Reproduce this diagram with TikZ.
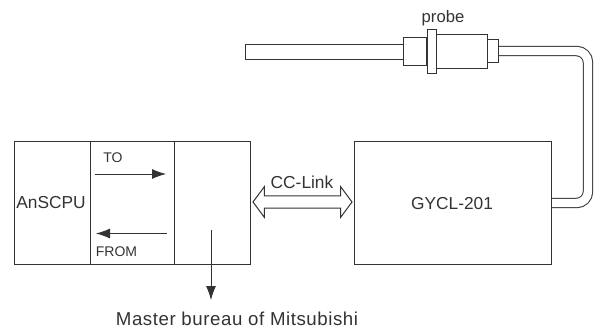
\documentclass[tikz,border=0pt]{standalone}
\usepackage{fontspec}
\setmainfont{Liberation Sans}
\newfontfamily\spacedfont[LetterSpace=3]{Liberation Sans}
\usetikzlibrary{arrows.meta, shapes.arrows}
\tikzset{
    part/.style={draw=inkgrey, line width=0.75pt, minimum width=#1, anchor=north west, inner sep=0pt},
    label/.style={text=inkgrey, font=\fontsize{13pt}{15pt}\selectfont, inner sep=0pt},
    smalllabel/.style={label, font=\fontsize{10.5pt}{12pt}\selectfont},
    flow/.style={draw=inkgrey, line width=0.6pt, -{Latex[length=10.5pt, width=7.5pt]}}
}
\definecolor{inkgrey}{HTML}{333333}
\begin{document}
\begin{tikzpicture}[x=0.75pt, y=-0.75pt]
    \useasboundingbox (0,0) rectangle (600,329);
    % PLC unit
    \node[part=57pt, minimum height=92.25pt] (cpu) at (14,141) {};
    \node[part=63pt, minimum height=92.25pt] (buffer) at (90,141) {};
    \node[part=57pt, minimum height=92.25pt] (master) at (174,141) {};
    \node[label] (cpuname) at (51,203) {AnSCPU};
    \node[smalllabel] (tolabel) at (113,158) {TO};
    \node[smalllabel] (fromlabel) at (116.5,252) {FROM};
    \coordinate (toA) at (95,174);
    \coordinate (toB) at (166,174);
    \coordinate (fromA) at (167,233.5);
    \coordinate (fromB) at (96,233.5);
    \draw[flow] (toA) -- (toB);
    \draw[flow] (fromA) -- (fromB);
    % master bureau
    \coordinate (busA) at (211,230);
    \node[label, font=\fontsize{14pt}{16pt}\spacedfont] (bureau) at (237,319) {Master bureau of Mitsubishi};
    \coordinate (busB) at (211,300);
    \draw[flow] (busA) -- (busB);
    % sensor unit and link
    \node[part=147.75pt, minimum height=92.25pt] (sensor) at (354,141) {};
    \node[label] (sensorname) at (452,204) {GYCL-201};
    \node[draw=inkgrey, line width=0.75pt, double arrow, double arrow tip angle=107, double arrow head extend=7pt,
        minimum height=74.25pt, minimum width=22.5pt, inner xsep=0pt, inner ysep=4.2pt] (link) at (302.5,202) {};
    \node[label] (linkname) at (302,182) {CC-Link};
    % probe
    \node[label, font=\fontsize{12.5pt}{14pt}\selectfont] (probename) at (443,18) {probe};
    \node[part=118.5pt, minimum height=11.25pt] (rod) at (245,43.5) {};
    \node[part=17.25pt, minimum height=21pt] (collar) at (403,37) {};
    \node[part=38.25pt, minimum height=25.5pt] (barrel) at (436,34) {};
    \node[part=7pt, minimum height=32.75pt] (flange) at (426.7,29) {};
    \node[part=8.25pt, minimum height=17.25pt] (endcap) at (487,39) {};
    \coordinate (bend) at (588,100);
    \draw[draw=inkgrey, line width=0.75pt, double, double distance=6.3pt, rounded corners=8.6pt]
        (endcap.east) -- (endcap.east -| bend) -- (sensor.east -| bend) -- (sensor.east);
\end{tikzpicture}
\end{document}
